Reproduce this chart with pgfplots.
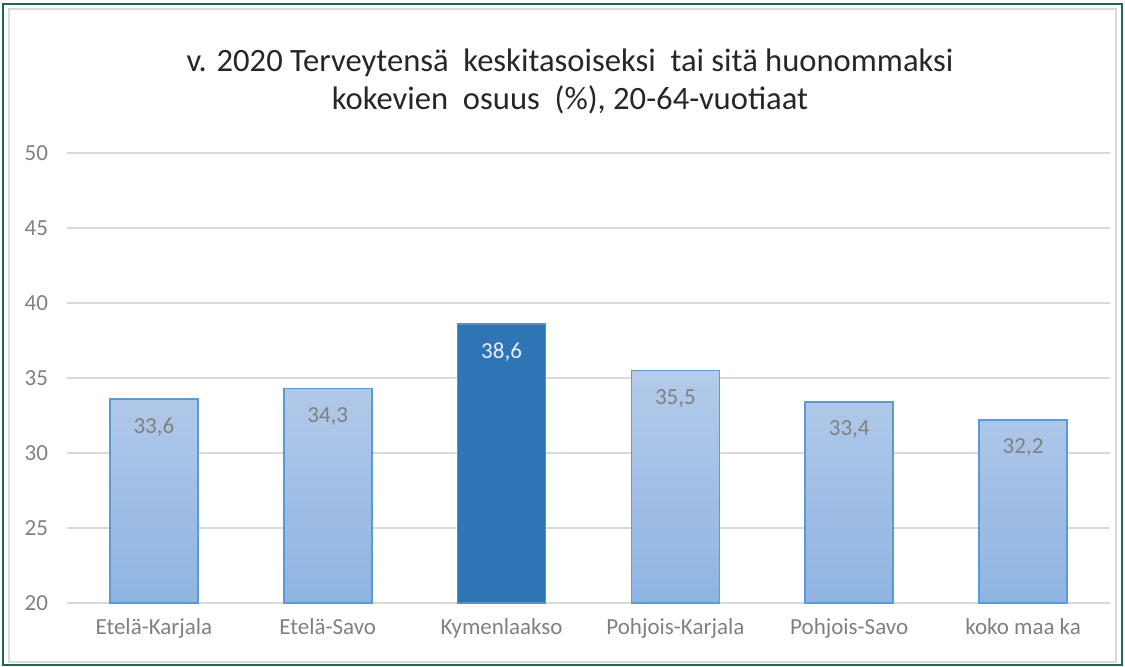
\documentclass[border=0pt]{standalone}
\usepackage{fontspec}
\setmainfont{Carlito}
\usepackage{pgfplots}
\pgfplotsset{compat=1.18}

\definecolor{framegreen}{RGB}{30,105,75}
\definecolor{gridgray}{RGB}{217,217,217}
\definecolor{labelgray}{RGB}{128,128,128}
\definecolor{barlight}{RGB}{180,203,234}
\definecolor{barlow}{RGB}{143,180,226}
\definecolor{baredge}{RGB}{91,155,213}
\definecolor{bardark}{RGB}{46,117,182}

\begin{document}
\begin{tikzpicture}
\useasboundingbox (0,0) rectangle (562.5pt,333.5pt);
\draw[framegreen, line width=1pt] (1.5pt,1pt) rectangle (561pt,331.5pt);
\draw[gridgray, line width=0.8pt] (4.5pt,2.5pt) rectangle (558pt,329pt);

\node[align=center, font=\fontsize{16.3}{19}\selectfont, text=black!85] at (285pt,293pt)
  {v. 2020 Terveytensä\ \ keskitasoiseksi\ \ tai sitä huonommaksi\\
   kokevien\ \ osuus\ \ (\%), 20-64-vuotiaat};

\begin{axis}[
    at={(33.5pt,32pt)}, anchor=south west,
    scale only axis, width=521.5pt, height=225pt,
    xmin=-0.5, xmax=5.5, ymin=20, ymax=50,
    ytick={20,25,...,50},
    xtick={0,...,5},
    xticklabels={Etelä-Karjala,Etelä-Savo,Kymenlaakso,Pohjois-Karjala,Pohjois-Savo,koko maa ka},
    axis line style={draw=none},
    major tick length=0pt,
    ymajorgrids, grid style={gridgray, line width=0.9pt},
    tick label style={text=labelgray},
    yticklabel style={font=\fontsize{11.5}{13}\selectfont, xshift=-6pt},
    xticklabel style={font=\fontsize{11.5}{13}\selectfont, yshift=-4pt},
    /pgf/number format/assume math mode=true,
    nodes near coords={\pgfmathprintnumber[fixed,fixed zerofill,precision=1,use comma]{\pgfplotspointmeta}},
    nodes near coords style={font=\fontsize{11.5}{13}\selectfont, anchor=center, yshift=-14pt},
    clip=false,
]
\addplot[ybar, bar width=44pt, bar shift=0pt, draw=baredge, line width=0.8pt,
    top color=barlight, bottom color=barlow,
    every node near coord/.append style={text=labelgray}]
  coordinates {(0,33.6) (1,34.3) (3,35.5) (4,33.4) (5,32.2)};
\addplot[ybar, bar width=44pt, bar shift=0pt, draw=bardark!80!white, line width=0.6pt,
    fill=bardark,
    every node near coord/.append style={text=white!92!blue}]
  coordinates {(2,38.6)};
\end{axis}
\end{tikzpicture}
\end{document}
